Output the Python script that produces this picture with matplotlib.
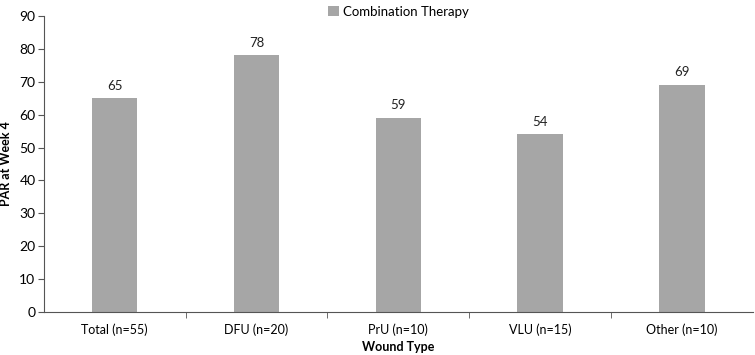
import matplotlib.pyplot as plt
import numpy as np

plt.rcParams['font.family'] = ['Lato', 'DejaVu Sans']

categories = ['Total (n=55)', 'DFU (n=20)', 'PrU (n=10)', 'VLU (n=15)', 'Other (n=10)']
values = [65, 78, 59, 54, 69]
series_name = 'Combination Therapy'

fig = plt.figure(figsize=(7.55, 3.55), dpi=100)
ax = fig.add_axes([0.058, 0.121, 0.939, 0.834])

x = np.arange(len(categories))
bars = ax.bar(x, values, width=0.32, color='#a6a6a6', label=series_name)
for xi, v in zip(x, values):
    ax.text(xi, v + 2, str(v), ha='center', va='bottom', fontsize=9.5, color='#222222')

ax.set_xlim(-0.5, len(categories) - 0.5)
ax.set_ylim(0, 90)
ax.set_yticks(range(0, 91, 10))
ax.set_xticks(x)
ax.set_xticklabels(categories)
ax.set_xticks(np.arange(0.5, len(categories) - 0.5, 1), minor=True)
ax.tick_params(axis='x', which='major', length=0, labelsize=9, pad=8)
ax.tick_params(axis='x', which='minor', length=4, color='#555555', direction='out')
ax.tick_params(axis='y', length=4, color='#555555', labelsize=10, direction='out', pad=2)

for s in ['top', 'right']:
    ax.spines[s].set_visible(False)
ax.spines['left'].set_color('#555555')
ax.spines['bottom'].set_color('#555555')

ax.set_xlabel('Wound Type', fontsize=9, fontweight='bold', labelpad=4)
ax.set_ylabel('PAR at Week 4', fontsize=9, fontweight='bold', labelpad=3)
ax.yaxis.set_label_coords(-0.045, 0.5)

ax.legend(loc='upper center', bbox_to_anchor=(0.5, 1.075), frameon=False,
          fontsize=9.5, handlelength=0.8, handleheight=0.8, handletextpad=0.3)

fig.savefig('out.png', dpi=100)
